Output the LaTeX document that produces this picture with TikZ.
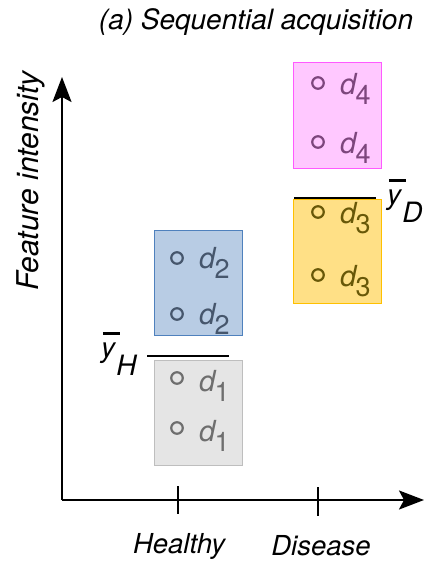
\documentclass[tikz,border=0pt]{standalone}
\usepackage{fontspec}
\setmainfont{TeX Gyre Heros}
\usetikzlibrary{arrows.meta}
\definecolor{bluefill}{RGB}{184,204,228}
\definecolor{blueline}{RGB}{79,129,189}
\definecolor{bluetext}{RGB}{70,86,108}
\definecolor{grayfill}{RGB}{229,229,229}
\definecolor{grayline}{RGB}{190,190,190}
\definecolor{graytext}{RGB}{110,110,110}
\definecolor{pinkfill}{RGB}{255,200,255}
\definecolor{pinkline}{RGB}{255,90,255}
\definecolor{pinktext}{RGB}{125,70,125}
\definecolor{yelfill}{RGB}{255,224,134}
\definecolor{yelline}{RGB}{255,192,0}
\definecolor{yeltext}{RGB}{104,88,8}
\newcommand\dsub[1]{\textit{d}\kern-2pt\raisebox{-10pt}{\fontsize{27}{27}\selectfont #1}}
\newcommand\ybarsub[1]{\rlap{\hspace{0.06em}\raisebox{0.8em}{\rule{0.6em}{0.085em}}}\textit{y}\raisebox{-18pt}{\itshape #1}}
\begin{document}
\begin{tikzpicture}[x=1pt,y=-1pt,
  grp/.style={draw, line width=1.2pt, minimum width=88pt, minimum height=105pt, inner sep=0pt, anchor=north west},
  pt/.style={circle, draw, line width=2.2pt, minimum size=11.5pt, inner sep=0pt},
  dlab/.style={anchor=base west, inner sep=0pt, font=\fontsize{29}{29}\selectfont},
  meanline/.style={line width=2.8pt},
  axis/.style={line width=2.2pt, -{Stealth[length=25pt,width=19pt,inset=5pt]}},
  tick/.style={line width=2pt},
  lab/.style={font=\fontsize{27.5}{27.5}\selectfont\itshape, inner sep=0pt}
]
\useasboundingbox (0,0) rectangle (428,562);
% title
\node[lab, font=\fontsize{28}{28}\selectfont\itshape] (title) at (256,22) {(a) Sequential acquisition};
% axes
\coordinate (O) at (62,500);
\coordinate (ytip) at (62,77);
\coordinate (xtip) at (424,500);
\draw[axis] (O) -- (ytip);
\draw[axis] (O) -- (xtip);
\node[lab, font=\fontsize{30}{30}\selectfont\itshape, rotate=90] (ylab) at (31,181) {Feature intensity};
% ticks
\coordinate (h1) at (178,486); \coordinate (h2) at (178,514);
\coordinate (s1) at (318,487); \coordinate (s2) at (318,516);
\draw[tick] (h1) -- (h2);
\draw[tick] (s1) -- (s2);
\node[lab] (healthy) at (179,546) {Healthy};
\node[lab] (disease) at (321,546) {Disease};
% boxes
\node[grp, fill=bluefill, draw=blueline, minimum height=105pt] (blue) at (154,230) {};
\node[grp, fill=grayfill, draw=grayline, minimum height=105pt] (gray) at (154,360) {};
\node[grp, fill=pinkfill, draw=pinkline, minimum height=106pt] (pink) at (293,62) {};
\node[grp, fill=yelfill, draw=yelline, minimum height=104pt] (yel) at (293,199) {};
% points
\node[pt, draw=graytext] (g1) at (177,378) {};
\node[dlab, text=graytext] (g1l) at (199,391) {\dsub{1}};
\node[pt, draw=graytext] (g2) at (177,428) {};
\node[dlab, text=graytext] (g2l) at (199,441) {\dsub{1}};
\node[pt, draw=bluetext] (b1) at (177,258) {};
\node[dlab, text=bluetext] (b1l) at (199,268) {\dsub{2}};
\node[pt, draw=bluetext] (b2) at (177,314) {};
\node[dlab, text=bluetext] (b2l) at (199,324) {\dsub{2}};
\node[pt, draw=pinktext] (p1) at (318,83) {};
\node[dlab, text=pinktext] (p1l) at (340,94) {\dsub{4}};
\node[pt, draw=pinktext] (p2) at (318,142) {};
\node[dlab, text=pinktext] (p2l) at (340,153) {\dsub{4}};
\node[pt, draw=yeltext] (y1) at (318,212) {};
\node[dlab, text=yeltext] (y1l) at (340,223) {\dsub{3}};
\node[pt, draw=yeltext] (y2) at (318,275) {};
\node[dlab, text=yeltext] (y2l) at (340,286) {\dsub{3}};
% means
\coordinate (mh1) at (147,356); \coordinate (mh2) at (229,356);
\coordinate (md1) at (294,198); \coordinate (md2) at (376,198);
\draw[meanline] (mh1) -- (mh2);
\draw[meanline] (md1) -- (md2);
\node[anchor=base west, inner sep=0pt, font=\fontsize{28}{28}\selectfont] (yH) at (101,357) {\ybarsub{H}};
\node[anchor=base west, inner sep=0pt, font=\fontsize{28}{28}\selectfont] (yD) at (387,204) {\ybarsub{D}};
\end{tikzpicture}
\end{document}
